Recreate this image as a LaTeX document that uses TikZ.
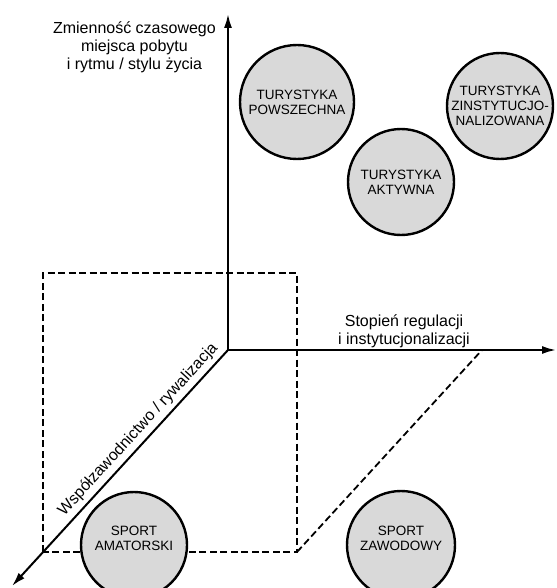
\documentclass[tikz,border=0pt]{standalone}
\usepackage{fontspec}
\setmainfont{Liberation Sans}
\usetikzlibrary{positioning}
\usetikzlibrary{arrows.meta}
\tikzset{
    mycircle/.style = {circle, line width=2.4pt, draw=black, fill=black!15, align=center, inner sep=0pt, font=\fontsize{13.5}{15}\selectfont, text=black},
    circletext/.style = {align=center, inner sep=0pt, font=\fontsize{13.5}{15}\selectfont, text=black},
    axis/.style = {-{Latex[length=14pt,width=8pt]}, line width=2pt, black},
    edged/.style = {-, line width=1.8pt, black, dash pattern=on 7pt off 3.5pt}, % box
    axislabel/.style = {align=center, inner sep=1pt, font=\fontsize{16}{18}\selectfont}
}

\begin{document}
\begin{tikzpicture}[x=1pt,y=-1pt]
  \useasboundingbox (0,0) rectangle (556,588);
  % axes
  \coordinate (o) at (228,350);
  \coordinate (ytip) at (228,14);
  \coordinate (xtip) at (556,350);
  \coordinate (ztip) at (12,586);
  % dashed box
  \coordinate (b1) at (43,273);
  \coordinate (b2) at (297,273);
  \coordinate (b3) at (297,552);
  \coordinate (b4) at (43,552);
  \coordinate (b5) at (482,350);
  \draw[edged] (b4) -- (b1) -- (b2) -- (b3) -- cycle;
  \draw[edged] (b3) -- (b5);
  \draw[axis] (o) -- (ytip);
  \draw[axis] (o) -- (xtip);
  \draw[axis] (o) -- (ztip);
  \node[axislabel, anchor=north east] (ylab) at (217,21) {Zmienność czasowego\\miejsca pobytu\\i rytmu / stylu życia};
  \node[axislabel, anchor=south, inner sep=0pt] (xlab) at (404,348) {Stopień regulacji\\i instytucjonalizacji};
  \node[axislabel, anchor=south, inner sep=3pt, rotate=47.5] (zlab) at (146,437) {Współzawodnictwo / rywalizacja};
  % circles
  \node[mycircle, minimum size=114] (tpow) at (297,102) {TURYSTYKA\\POWSZECHNA};
  \node[mycircle, minimum size=106] (tzin) at (500,106) {TURYSTYKA\\ZINSTYTUCJO-\\NALIZOWANA};
  \node[mycircle, minimum size=106] (takt) at (401,182) {TURYSTYKA\\AKTYWNA};
  \node[mycircle, minimum size=106] (samat) at (134,545) {};
  \node[mycircle, minimum size=108] (szaw) at (401,545) {};
  \node[circletext] (samatt) at (134,538) {SPORT\\AMATORSKI};
  \node[circletext] (szawt) at (401,538) {SPORT\\ZAWODOWY};
\end{tikzpicture}
\end{document}
